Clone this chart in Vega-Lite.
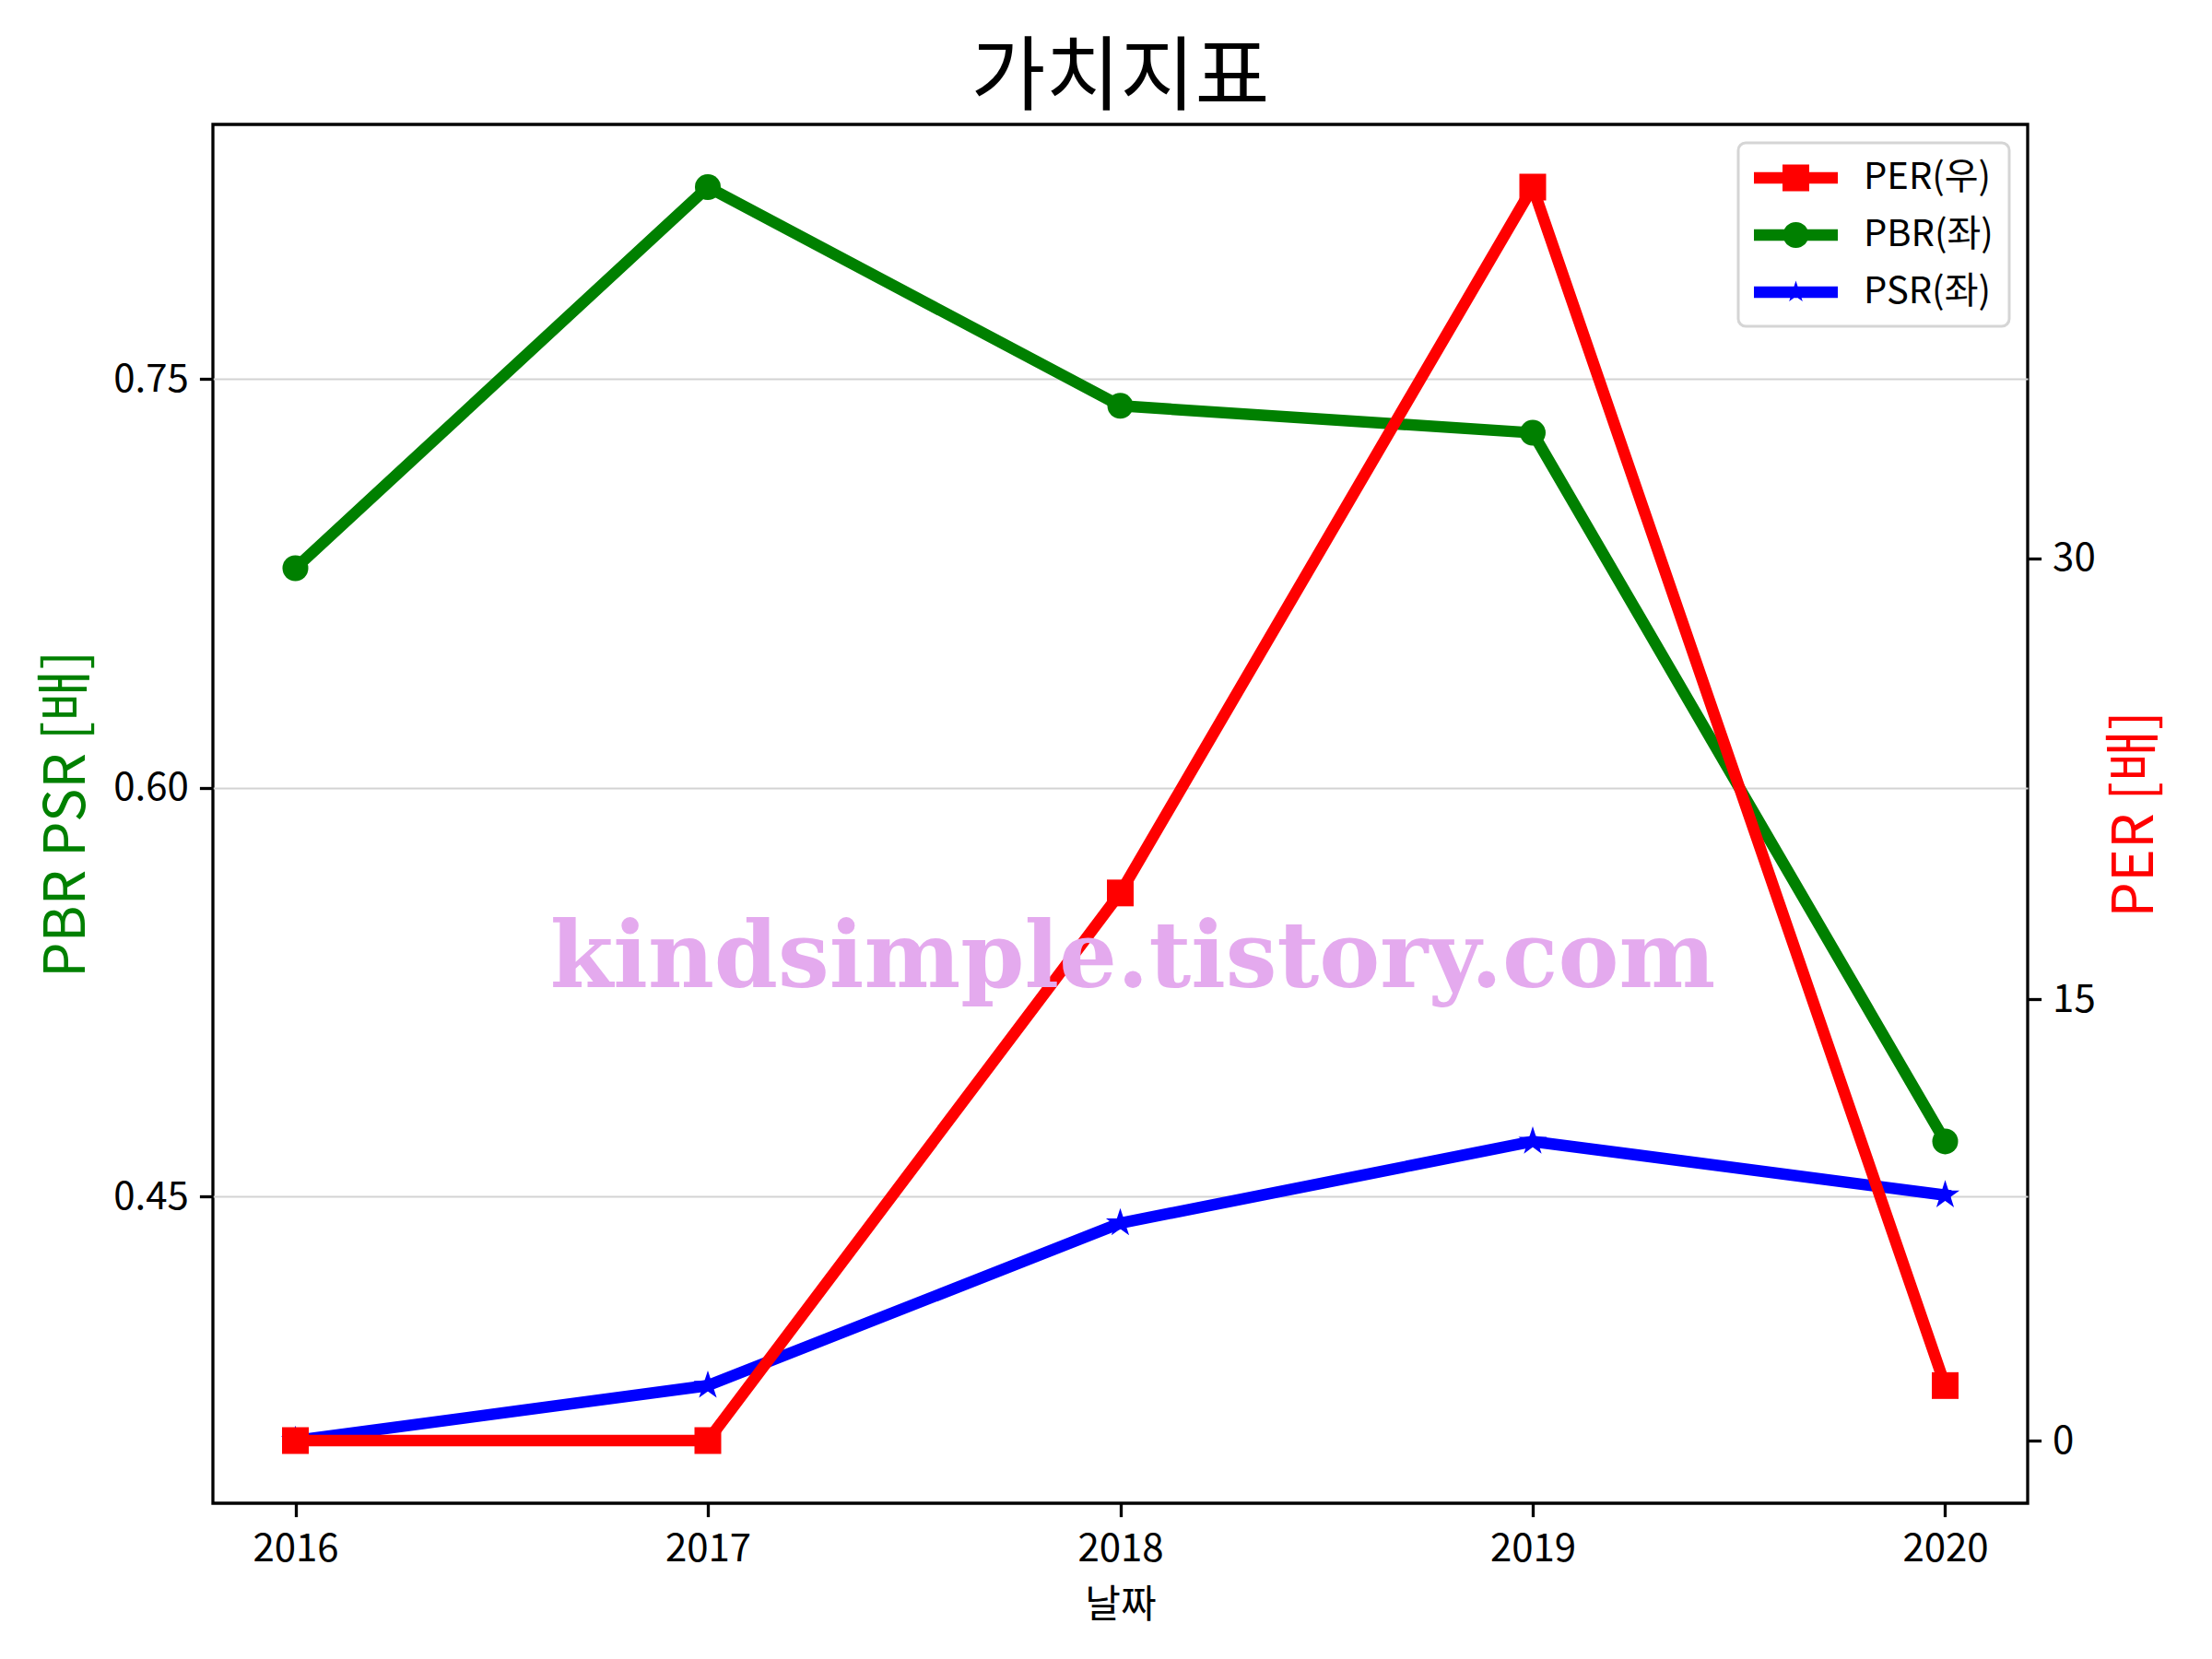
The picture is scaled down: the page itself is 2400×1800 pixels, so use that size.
{
  "$schema": "https://vega.github.io/schema/vega-lite/v6.json",
  "width": 1969,
  "height": 1496,
  "autosize": {"type": "none"},
  "padding": {"left": 231, "top": 135, "right": 200, "bottom": 169},
  "background": "white",
  "title": {"text": "가치지표", "fontSize": 88, "font": "Noto Sans CJK KR", "fontWeight": "normal", "anchor": "middle", "frame": "group", "baseline": "alphabetic", "offset": 22, "dy": 87, "color": "black"},
  "config": {
    "font": "Noto Sans CJK KR",
    "view": {"stroke": "black", "strokeWidth": 3.3},
    "axis": {"domain": false, "tickColor": "black", "tickWidth": 3.3, "tickSize": 14.6, "labelFontSize": 42, "labelColor": "black", "labelPadding": 12, "titleFontWeight": "normal", "titleColor": "black", "labelFont": "Noto Sans CJK KR", "titleFont": "Noto Sans CJK KR"},
    "legend": {"strokeWidth": 3}
  },
  "data": {"values": [
    {"year": 2016, "series": "PBR", "value": 0.6806},
    {"year": 2017, "series": "PBR", "value": 0.8205},
    {"year": 2018, "series": "PBR", "value": 0.7402},
    {"year": 2019, "series": "PBR", "value": 0.7303},
    {"year": 2020, "series": "PBR", "value": 0.4702},
    {"year": 2016, "series": "PSR", "value": 0.3604},
    {"year": 2017, "series": "PSR", "value": 0.3806},
    {"year": 2018, "series": "PSR", "value": 0.4402},
    {"year": 2019, "series": "PSR", "value": 0.4702},
    {"year": 2020, "series": "PSR", "value": 0.4505},
    {"year": 2016, "series": "PER", "value": 0},
    {"year": 2017, "series": "PER", "value": 0},
    {"year": 2018, "series": "PER", "value": 18.62},
    {"year": 2019, "series": "PER", "value": 42.62},
    {"year": 2020, "series": "PER", "value": 1.87}
  ]},
  "layer": [
    {
      "encoding": {
        "x": {"field": "year", "type": "quantitative", "scale": {"domain": [2015.8, 2020.2], "nice": false, "zero": false},
              "axis": {"orient": "bottom", "values": [2016, 2017, 2018, 2019, 2020], "format": "d", "title": "날짜", "titleFontSize": 42, "titlePadding": 20, "labelPadding": 15, "grid": false}},
        "y": {"field": "value", "type": "quantitative", "scale": {"domain": [0.3374, 0.8435], "nice": false, "zero": false},
              "axis": {"orient": "left", "values": [0.45, 0.6, 0.75], "format": ".2f", "title": "PBR PSR [배]", "titleColor": "#008000", "titleFontSize": 61, "titlePadding": 18, "grid": true, "gridColor": "#d3d3d3", "gridWidth": 2}}
      },
      "layer": [
        {"transform": [{"filter": "datum.series === 'PBR'"}], "mark": {"type": "line", "color": "#008000", "strokeWidth": 12.5, "strokeJoin": "round", "strokeCap": "square"}},
        {"transform": [{"filter": "datum.series === 'PBR'"}], "mark": {"type": "point", "shape": "circle", "filled": true, "size": 784, "color": "#008000", "opacity": 1}},
        {"transform": [{"filter": "datum.series === 'PSR'"}], "mark": {"type": "line", "color": "#0000ff", "strokeWidth": 12.5, "strokeJoin": "round", "strokeCap": "square"}},
        {"transform": [{"filter": "datum.series === 'PSR'"}], "mark": {"type": "point", "shape": "M0,-1L0.2245,-0.309L0.9511,-0.309L0.3633,0.118L0.5878,0.809L0,0.382L-0.5878,0.809L-0.3633,0.118L-0.9511,-0.309L-0.2245,-0.309Z", "filled": true, "size": 529, "color": "#0000ff", "stroke": "#0000ff", "strokeWidth": 3, "opacity": 1}}
      ]
    },
    {
      "encoding": {
        "x": {"field": "year", "type": "quantitative", "scale": {"domain": [2015.8, 2020.2], "nice": false, "zero": false},
              "axis": {"orient": "bottom", "values": [2016, 2017, 2018, 2019, 2020], "format": "d", "title": "날짜", "titleFontSize": 42, "titlePadding": 20, "labelPadding": 15, "grid": false}},
        "y": {"field": "value", "type": "quantitative", "scale": {"domain": [-2.131, 44.751], "nice": false, "zero": false},
              "axis": {"orient": "right", "values": [0, 15, 30], "format": "d", "title": "PER [배]", "titleColor": "#ff0000", "titleFontSize": 61, "titleAngle": 270, "titleBaseline": "top", "titlePadding": 14, "grid": false}}
      },
      "layer": [
        {"transform": [{"filter": "datum.series === 'PER'"}], "mark": {"type": "line", "color": "#ff0000", "strokeWidth": 12.5, "strokeJoin": "round", "strokeCap": "square"}},
        {"transform": [{"filter": "datum.series === 'PER'"}], "mark": {"type": "point", "shape": "square", "filled": true, "size": 841, "color": "#ff0000", "opacity": 1}},
        {"transform": [{"filter": "datum.series === 'PER' && datum.year === 2018"}],
         "mark": {"type": "text", "text": "kindsimple.tistory.com", "font": "DejaVu Serif", "fontWeight": "bold", "fontSize": 99, "color": "#E4AAEE", "align": "center", "baseline": "middle"},
         "encoding": {
           "x": {"datum": 2018.03, "type": "quantitative", "scale": {"domain": [2015.8, 2020.2], "nice": false, "zero": false},
                 "axis": {"orient": "bottom", "values": [2016, 2017, 2018, 2019, 2020], "format": "d", "title": "날짜", "titleFontSize": 42, "titlePadding": 20, "labelPadding": 15, "grid": false}},
           "y": {"datum": 16.36, "type": "quantitative", "scale": {"domain": [-2.131, 44.751], "nice": false, "zero": false},
                 "axis": {"orient": "right", "values": [0, 15, 30], "format": "d", "title": "PER [배]", "titleColor": "#ff0000", "titleFontSize": 61, "titleAngle": 270, "titleBaseline": "top", "titlePadding": 14, "grid": false}}
         }}
      ]
    },
    {
      "transform": [{"filter": "false"}],
      "mark": {"type": "point", "filled": true, "opacity": 1},
      "encoding": {
        "color": {"field": "series", "type": "nominal",
                  "scale": {"domain": ["PER(우)", "PBR(좌)", "PSR(좌)"], "range": ["#ff0000", "#008000", "#0000ff"]},
                  "legend": {"orient": "top-right", "offset": 20, "title": null, "symbolSize": 1764, "symbolStrokeWidth": 0, "labelFontSize": 40, "labelFont": "Noto Sans CJK KR", "labelColor": "black", "labelOffset": 77, "rowPadding": 21, "padding": 17, "strokeColor": "#d5d5d5", "cornerRadius": 8, "fillColor": "white"}},
        "shape": {"field": "series", "type": "nominal",
                  "scale": {"domain": ["PER(우)", "PBR(좌)", "PSR(좌)"], "range": [
                    "M-1,-0.298H3.333V0.298H-1ZM0.477,-0.69H1.857V0.69H0.477Z",
                    "M-1,-0.298H3.333V0.298H-1ZM0.5,0A0.667,0.667 0 1,1 1.834,0A0.667,0.667 0 1,1 0.5,0Z",
                    "M-1,-0.298H3.333V0.298H-1ZM1.167,-0.595L1.3006,-0.1839L1.7329,-0.1839L1.3832,0.0702L1.5167,0.4814L1.167,0.2273L0.8173,0.4814L0.9508,0.0702L0.6011,-0.1839L1.0334,-0.1839Z"]},
                  "legend": {"orient": "top-right", "offset": 20, "title": null, "symbolSize": 1764, "symbolStrokeWidth": 0, "labelFontSize": 40, "labelFont": "Noto Sans CJK KR", "labelColor": "black", "labelOffset": 77, "rowPadding": 21, "padding": 17, "strokeColor": "#d5d5d5", "cornerRadius": 8, "fillColor": "white"}}
      }
    }
  ],
  "resolve": {"scale": {"y": "independent"}}
}
